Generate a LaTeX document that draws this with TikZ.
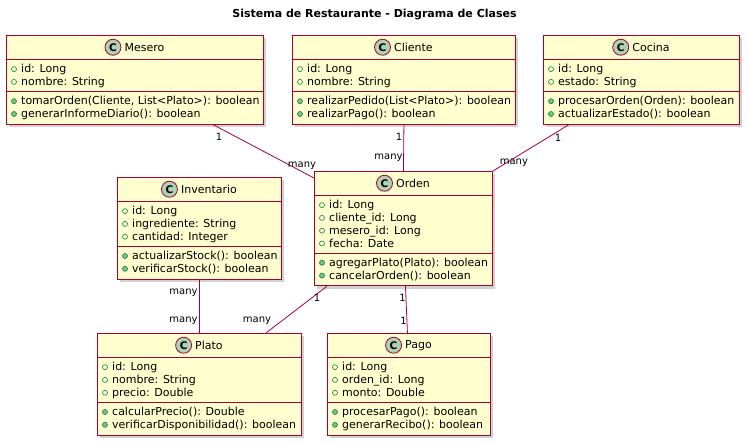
\documentclass[tikz,border=0pt]{standalone}
\usepackage{fontspec}
\setmainfont{DejaVu Sans}
\usetikzlibrary{calc,positioning,shadows}

\definecolor{borda}{HTML}{A80036}
\definecolor{fundo}{HTML}{FEFECE}
\definecolor{circulo}{HTML}{ADD1B2}
\definecolor{verde}{HTML}{038048}
\definecolor{verdeclaro}{HTML}{84BE84}

\tikzset{classe/.style={draw=borda,fill=fundo,line width=0.9pt,inner sep=0pt,
	drop shadow={shadow xshift=3pt,shadow yshift=-3pt,fill=black!45,opacity=0.4}}}
\tikzset{divisao/.style={draw=borda,line width=0.9pt}}
\tikzset{nome/.style={inner sep=0pt,font=\fontsize{11}{13}\selectfont}}
\tikzset{icone/.style={circle,draw=borda,fill=circulo,line width=0.8pt,minimum size=16pt,
	inner sep=0pt,font=\fontsize{10.5}{12}\selectfont\bfseries}}
\tikzset{membro/.style={anchor=west,inner sep=0pt,text height=9pt,text depth=2pt,
	font=\fontsize{11}{13}\selectfont}}
\tikzset{atributo/.style={circle,draw=verde,line width=0.6pt,minimum size=5pt,inner sep=0pt}}
\tikzset{metodo/.style={atributo,fill=verdeclaro}}
\tikzset{associacao/.style={draw=borda,line width=0.8pt}}
\tikzset{multi/.style={inner sep=0pt,font=\fontsize{10}{12}\selectfont}}

% #1 nome, #2 titulo, #3 esquerda, #4 topo, #5 largura,
% #6 n. atributos, #7 n. metodos, #8 atributos, #9 metodos
\newcommand{\classe}[9]{%
	\pgfmathsetmacro{\hatr}{#6*12.8+6.5}
	\pgfmathsetmacro{\hmet}{#7*12.8+6.5}
	\pgfmathsetmacro{\altura}{24.5+\hatr+\hmet}
	\pgfmathsetmacro{\ymet}{24.5+\hatr}
	\node [classe, minimum width=#5pt, minimum height=\altura pt, anchor=north west]
		(#1) at (#3,#4) {};
	\draw [divisao] ($(#1.north west)+(0,24.5)$) -- ($(#1.north east)+(0,24.5)$);
	\draw [divisao] ($(#1.north west)+(0,\ymet)$) -- ($(#1.north east)+(0,\ymet)$);
	\node [nome, xshift=9.5pt] (#1-nome) at ($(#1.north)+(0,12.25)$) {#2};
	\node [icone, left=3pt of #1-nome] (#1-c) {C};
	\foreach \t [count=\i] in {#8} {
		\node [atributo] (#1-ia\i) at ($(#1.north west)+(8,{34.1+(\i-1)*12.8})$) {};
		\node [membro] (#1-a\i) at ($(#1.north west)+(15,{34.1+(\i-1)*12.8})$) {\t};
	}
	\foreach \t [count=\i] in {#9} {
		\node [metodo] (#1-im\i) at ($(#1.north west)+(8,{\ymet+9.6+(\i-1)*12.8})$) {};
		\node [membro] (#1-m\i) at ($(#1.north west)+(15,{\ymet+9.6+(\i-1)*12.8})$) {\t};
	}
}

\begin{document}
\begin{tikzpicture}[x=1pt,y=-1pt]

	\useasboundingbox [fill=white] (0,0) rectangle (749,444);

	% O titulo
	\node [font=\fontsize{11}{13}\selectfont\bfseries] (titulo) at (374.5,15)
		{Sistema de Restaurante - Diagrama de Clases};

	% As classes
	\classe{mesero}{Mesero}{6}{35}{257}{2}{2}
		{id: Long, nombre: String}
		{{tomarOrden(Cliente, List<Plato>): boolean}, generarInformeDiario(): boolean}
	\classe{cliente}{Cliente}{292}{35}{223}{2}{2}
		{id: Long, nombre: String}
		{realizarPedido(List<Plato>): boolean, realizarPago(): boolean}
	\classe{cocina}{Cocina}{543}{35}{196}{2}{2}
		{id: Long, estado: String}
		{procesarOrden(Orden): boolean, actualizarEstado(): boolean}
	\classe{orden}{Orden}{314}{171}{178}{4}{2}
		{id: Long, cliente\_id: Long, mesero\_id: Long, fecha: Date}
		{agregarPlato(Plato): boolean, cancelarOrden(): boolean}
	\classe{inventario}{Inventario}{117}{177}{164}{3}{2}
		{id: Long, ingrediente: String, cantidad: Integer}
		{actualizarStock(): boolean, verificarStock(): boolean}
	\classe{plato}{Plato}{97}{333}{204}{3}{2}
		{id: Long, nombre: String, precio: Double}
		{calcularPrecio(): Double, verificarDisponibilidad(): boolean}
	\classe{pago}{Pago}{327}{333}{163}{3}{2}
		{id: Long, orden\_id: Long, monto: Double}
		{procesarPago(): boolean, generarRecibo(): boolean}

	% Mesero - Orden
	\draw [associacao] ($(mesero.south west)+(207,0)$) -- ($(orden.north west)+(0,7)$)
		node [multi, at start, xshift=6pt, yshift=-12pt] (mesero-mult) {1}
		node [multi, at end, xshift=-12pt, yshift=12pt] (orden-mult-a) {many};

	% Cliente - Orden
	\draw [associacao] (cliente.south) -- (orden.north)
		node [multi, at start, xshift=-5pt, yshift=-12pt] (cliente-mult) {1}
		node [multi, at end, xshift=-15pt, yshift=13pt] (orden-mult-b) {many};

	% Cocina - Orden
	\draw [associacao] ($(cocina.south west)+(26,0)$) -- (orden.north east)
		node [multi, at start, xshift=-11pt, yshift=-13pt] (cocina-mult) {1}
		node [multi, at end, xshift=21pt, yshift=8pt] (orden-mult-c) {many};

	% Inventario - Plato
	\draw [associacao] (inventario.south) -- (plato.north)
		node [multi, at start, xshift=-16pt, yshift=-13pt] (inventario-mult) {many}
		node [multi, at end, xshift=-16pt, yshift=12pt] (plato-mult-a) {many};

	% Orden - Plato
	\draw [associacao] ($(orden.south west)+(13,0)$) -- ($(plato.north west)+(169,0)$)
		node [multi, at start, xshift=-10pt, yshift=-12pt] (orden-mult-d) {1}
		node [multi, at end, xshift=-9pt, yshift=12pt] (plato-mult-b) {many};

	% Orden - Pago
	\draw [associacao] ($(orden.south)+(2,0)$) -- ($(pago.north)+(-1.5,0)$)
		node [multi, at start, xshift=-3pt, yshift=-12pt] (orden-mult-e) {1}
		node [multi, at end, xshift=-4pt, yshift=12pt] (pago-mult) {1};

\end{tikzpicture}
\end{document}
